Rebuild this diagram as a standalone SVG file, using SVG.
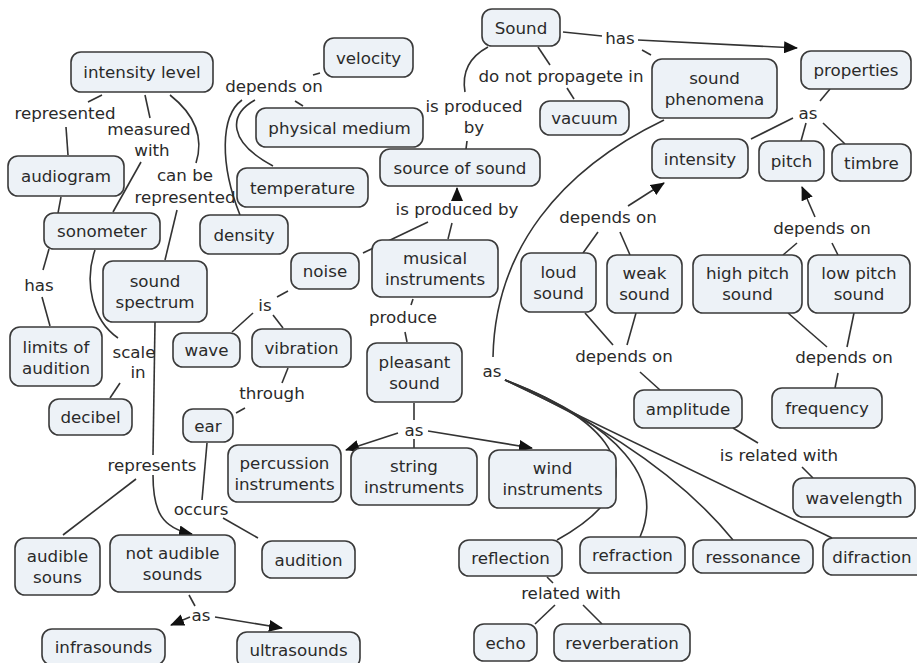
<svg xmlns="http://www.w3.org/2000/svg" width="917" height="663" viewBox="0 0 917 663">
<defs>
<style>
.n rect{fill:#edf2f7;stroke:#3a3a3a;stroke-width:1.6}
text{font-family:"DejaVu Sans",Verdana,sans-serif;font-size:16.7px;fill:#2a2a2a;text-anchor:middle}
#connectors path{stroke:#333;stroke-width:1.6;fill:none}
</style>
<marker id="a" markerWidth="14" markerHeight="12" refX="13" refY="6" orient="auto" markerUnits="userSpaceOnUse"><path d="M0,0 L14,6 L0,12 z" fill="#111"/></marker>
</defs>
<rect width="917" height="663" fill="#fff"/>
<g id="connectors">
<path d="M102,95 L88,102"/>
<path d="M66,127 L68,155"/>
<path d="M145,95 L150,118"/>
<path d="M141,162 L113,212"/>
<path d="M170,95 Q208,125 196,163"/>
<path d="M177,210 L165,260"/>
<path d="M61,197 L58,213"/>
<path d="M49,249 L43,270"/>
<path d="M42,297 L50,326"/>
<path d="M95,250 C84,282 92,320 118,338"/>
<path d="M120,383 L110,398"/>
<path d="M155,322 L153,455"/>
<path d="M153,475 C153,512 162,528 192,534" marker-end="url(#a)"/>
<path d="M136,479 L63,535"/>
<path d="M189,595 L195,606"/>
<path d="M190,617 L171,625" marker-end="url(#a)"/>
<path d="M215,617 L282,628" marker-end="url(#a)"/>
<path d="M288,291 L277,297"/>
<path d="M253,313 L232,332"/>
<path d="M273,315 L283,328"/>
<path d="M288,368 L282,383"/>
<path d="M245,408 L236,413"/>
<path d="M207,443 L202,500"/>
<path d="M223,518 L258,538"/>
<path d="M363,253 L428,222"/>
<path d="M448,239 L452,223"/>
<path d="M457,201 L457,188" marker-end="url(#a)"/>
<path d="M413,299 L411,305"/>
<path d="M405,332 L407,342"/>
<path d="M414,403 L414,420"/>
<path d="M398,433 L346,450" marker-end="url(#a)"/>
<path d="M414,439 L414,448"/>
<path d="M428,431 L532,448" marker-end="url(#a)"/>
<path d="M538,47 L550,65"/>
<path d="M567,88 L574,99"/>
<path d="M488,47 Q460,62 465,92"/>
<path d="M467,141 L466,149"/>
<path d="M563,32 L602,36"/>
<path d="M638,40 L797,48" marker-end="url(#a)"/>
<path d="M642,50 L651,55"/>
<path d="M830,89 L820,101"/>
<path d="M793,118 L751,139"/>
<path d="M806,123 L801,141"/>
<path d="M823,123 L845,144"/>
<path d="M664,120 C560,170 495,250 493,357"/>
<path d="M505,380 C610,420 665,480 557,540"/>
<path d="M505,380 C620,425 665,480 640,537"/>
<path d="M505,380 Q660,450 733,540"/>
<path d="M505,380 L832,538"/>
<path d="M628,206 L664,183" marker-end="url(#a)"/>
<path d="M583,253 L598,232"/>
<path d="M630,255 L620,232"/>
<path d="M585,313 L613,345"/>
<path d="M636,313 L627,345"/>
<path d="M640,372 L660,390"/>
<path d="M815,217 L802,187" marker-end="url(#a)"/>
<path d="M797,243 L783,255"/>
<path d="M832,243 L838,255"/>
<path d="M788,313 L827,347"/>
<path d="M854,313 L847,347"/>
<path d="M838,373 L835,388"/>
<path d="M733,428 L758,443"/>
<path d="M802,467 L813,478"/>
<path d="M547,577 L553,583"/>
<path d="M555,605 L535,624"/>
<path d="M583,605 L602,624"/>
<path d="M320,73 L313,75"/>
<path d="M295,101 L303,106"/>
<path d="M255,100 C228,115 228,142 273,166"/>
<path d="M242,100 C220,116 220,165 240,215"/>
</g>
<g id="labels">
<text x="65" y="119">represented</text>
<text x="149" y="135">measured</text>
<text x="152" y="156">with</text>
<text x="185" y="181">can be</text>
<text x="185" y="203">represented</text>
<text x="274" y="92">depends on</text>
<text x="561" y="82">do not propagete in</text>
<text x="474" y="112">is produced</text>
<text x="474" y="133">by</text>
<text x="620" y="44">has</text>
<text x="808" y="119">as</text>
<text x="822" y="234">depends on</text>
<text x="608" y="223">depends on</text>
<text x="457" y="215">is produced by</text>
<text x="265" y="311">is</text>
<text x="403" y="323">produce</text>
<text x="272" y="399">through</text>
<text x="414" y="436">as</text>
<text x="492" y="377">as</text>
<text x="624" y="362">depends on</text>
<text x="844" y="363">depends on</text>
<text x="779" y="461">is related with</text>
<text x="134" y="358">scale</text>
<text x="138" y="378">in</text>
<text x="39" y="291">has</text>
<text x="152" y="471">represents</text>
<text x="201" y="515">occurs</text>
<text x="201" y="621">as</text>
<text x="571" y="599">related with</text>
</g>
<g id="n-intensity-level" class="n"><rect x="71" y="52" width="142" height="40" rx="10"/><text x="142" y="78">intensity level</text></g>
<g id="n-velocity" class="n"><rect x="324" y="38" width="89" height="39" rx="10"/><text x="368.5" y="63.5">velocity</text></g>
<g id="n-physical-medium" class="n"><rect x="256" y="108" width="167" height="39" rx="10"/><text x="339.5" y="133.5">physical medium</text></g>
<g id="n-temperature" class="n"><rect x="237" y="168" width="131" height="39" rx="10"/><text x="302.5" y="193.5">temperature</text></g>
<g id="n-density" class="n"><rect x="200" y="215" width="88" height="39" rx="10"/><text x="244" y="240.5">density</text></g>
<g id="n-sound" class="n"><rect x="482" y="9" width="78" height="37" rx="10"/><text x="521" y="33.5">Sound</text></g>
<g id="n-vacuum" class="n"><rect x="540" y="101" width="89" height="34" rx="10"/><text x="584.5" y="124">vacuum</text></g>
<g id="n-source" class="n"><rect x="380" y="149" width="160" height="37" rx="10"/><text x="460" y="173.5">source of sound</text></g>
<g id="n-phenomena" class="n"><rect x="652" y="59" width="125" height="59" rx="10"/><text x="714.5" y="83.5">sound</text><text x="714.5" y="104.5">phenomena</text></g>
<g id="n-properties" class="n"><rect x="801" y="51" width="110" height="38" rx="10"/><text x="856" y="76">properties</text></g>
<g id="n-intensity" class="n"><rect x="652" y="139" width="96" height="39" rx="10"/><text x="700" y="164.5">intensity</text></g>
<g id="n-pitch" class="n"><rect x="759" y="141" width="65" height="40" rx="10"/><text x="791.5" y="167">pitch</text></g>
<g id="n-timbre" class="n"><rect x="832" y="144" width="79" height="37" rx="10"/><text x="871.5" y="168.5">timbre</text></g>
<g id="n-audiogram" class="n"><rect x="8" y="156" width="116" height="40" rx="10"/><text x="66" y="182">audiogram</text></g>
<g id="n-sonometer" class="n"><rect x="44" y="213" width="116" height="36" rx="10"/><text x="102" y="237">sonometer</text></g>
<g id="n-spectrum" class="n"><rect x="103" y="261" width="104" height="61" rx="10"/><text x="155" y="286.5">sound</text><text x="155" y="307.5">spectrum</text></g>
<g id="n-limits" class="n"><rect x="10" y="327" width="92" height="59" rx="10"/><text x="56" y="352.5">limits of</text><text x="56" y="373.5">audition</text></g>
<g id="n-decibel" class="n"><rect x="49" y="399" width="83" height="36" rx="10"/><text x="90.5" y="423">decibel</text></g>
<g id="n-wave" class="n"><rect x="173" y="333" width="67" height="34" rx="10"/><text x="206.5" y="356">wave</text></g>
<g id="n-ear" class="n"><rect x="183" y="409" width="50" height="33" rx="10"/><text x="208" y="431.5">ear</text></g>
<g id="n-noise" class="n"><rect x="291" y="253" width="68" height="36" rx="10"/><text x="325" y="277">noise</text></g>
<g id="n-vibration" class="n"><rect x="252" y="329" width="99" height="38" rx="10"/><text x="301.5" y="354">vibration</text></g>
<g id="n-musical" class="n"><rect x="372" y="240" width="126" height="57" rx="10"/><text x="435" y="263.5">musical</text><text x="435" y="284.5">instruments</text></g>
<g id="n-pleasant" class="n"><rect x="367" y="343" width="95" height="59" rx="10"/><text x="414.5" y="367.5">pleasant</text><text x="414.5" y="388.5">sound</text></g>
<g id="n-loud" class="n"><rect x="521" y="253" width="75" height="59" rx="10"/><text x="558.5" y="277.5">loud</text><text x="558.5" y="298.5">sound</text></g>
<g id="n-weak" class="n"><rect x="607" y="255" width="75" height="58" rx="10"/><text x="644.5" y="279">weak</text><text x="644.5" y="300">sound</text></g>
<g id="n-high" class="n"><rect x="693" y="255" width="109" height="58" rx="10"/><text x="747.5" y="279">high pitch</text><text x="747.5" y="300">sound</text></g>
<g id="n-low" class="n"><rect x="808" y="255" width="102" height="58" rx="10"/><text x="859" y="279">low pitch</text><text x="859" y="300">sound</text></g>
<g id="n-amplitude" class="n"><rect x="634" y="390" width="108" height="38" rx="10"/><text x="688" y="415">amplitude</text></g>
<g id="n-frequency" class="n"><rect x="772" y="388" width="110" height="40" rx="10"/><text x="827" y="414">frequency</text></g>
<g id="n-wavelength" class="n"><rect x="793" y="478" width="122" height="39" rx="10"/><text x="854" y="503.5">wavelength</text></g>
<g id="n-percussion" class="n"><rect x="228" y="445" width="113" height="57" rx="10"/><text x="284.5" y="468.5">percussion</text><text x="284.5" y="489.5">instruments</text></g>
<g id="n-string" class="n"><rect x="351" y="448" width="126" height="57" rx="10"/><text x="414" y="471.5">string</text><text x="414" y="492.5">instruments</text></g>
<g id="n-wind" class="n"><rect x="489" y="450" width="127" height="58" rx="10"/><text x="552.5" y="474">wind</text><text x="552.5" y="495">instruments</text></g>
<g id="n-reflection" class="n"><rect x="459" y="540" width="103" height="36" rx="10"/><text x="510.5" y="564">reflection</text></g>
<g id="n-refraction" class="n"><rect x="580" y="537" width="105" height="36" rx="10"/><text x="632.5" y="561">refraction</text></g>
<g id="n-ressonance" class="n"><rect x="693" y="540" width="120" height="33" rx="10"/><text x="753" y="562.5">ressonance</text></g>
<g id="n-difraction" class="n"><rect x="823" y="538" width="104" height="37" rx="10"/><text x="872" y="562.5">difraction</text></g>
<g id="n-echo" class="n"><rect x="474" y="624" width="63" height="37" rx="10"/><text x="505.5" y="648.5">echo</text></g>
<g id="n-reverberation" class="n"><rect x="554" y="624" width="136" height="37" rx="10"/><text x="622" y="648.5">reverberation</text></g>
<g id="n-audible" class="n"><rect x="15" y="538" width="85" height="57" rx="10"/><text x="57.5" y="561.5">audible</text><text x="57.5" y="582.5">souns</text></g>
<g id="n-not-audible" class="n"><rect x="110" y="535" width="125" height="57" rx="10"/><text x="172.5" y="558.5">not audible</text><text x="172.5" y="579.5">sounds</text></g>
<g id="n-infrasounds" class="n"><rect x="42" y="629" width="123" height="36" rx="10"/><text x="103.5" y="653">infrasounds</text></g>
<g id="n-ultrasounds" class="n"><rect x="237" y="632" width="123" height="36" rx="10"/><text x="298.5" y="656">ultrasounds</text></g>
<g id="n-audition" class="n"><rect x="262" y="541" width="93" height="37" rx="10"/><text x="308.5" y="565.5">audition</text></g>
</svg>
